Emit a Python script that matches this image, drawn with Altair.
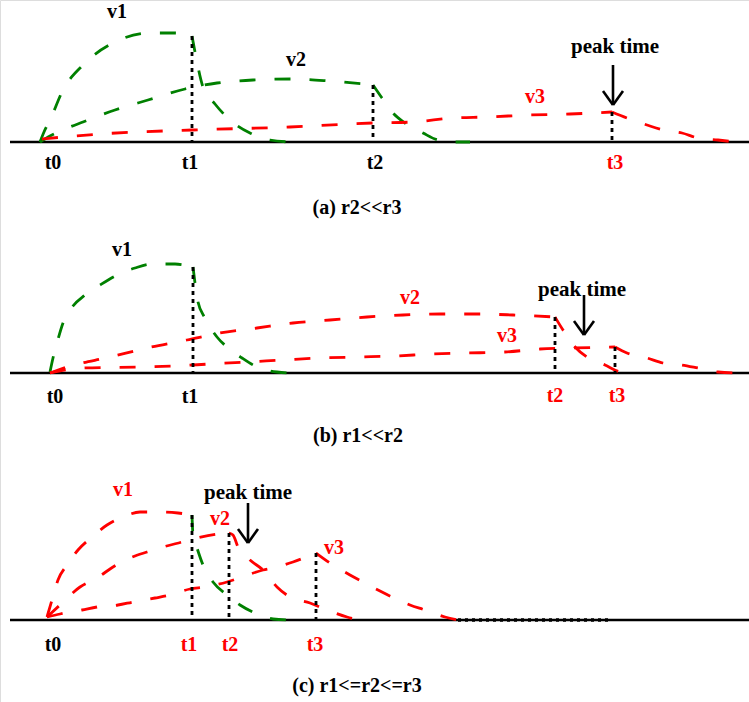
import altair as alt
import pandas as pd

W, H = 749, 702

# ---- panel baselines (pixel rows of the time axis) ----
panels = ["a", "b", "c"]
baseline_y = [142, 373, 620]
axis_x_start = [10, 10, 10]
axis_x_end = [749, 749, 749]
BASE = dict(zip(panels, baseline_y))

GREEN = "#008000"
RED = "#ff0000"
BLACK = "#000000"

# ---- curve points: x position and height above the baseline ----
# panel (a)
a_v1_rise_x = [40, 44, 50, 63, 83, 113, 150, 175, 192]
a_v1_rise_h = [0, 10, 22, 52, 77, 99, 109, 109, 106]
a_v1_fall_x = [192, 196, 203, 215, 230, 250, 270, 290]
a_v1_fall_h = [106, 85, 55, 38, 22, 9, 2, 0]
a_v2_rise_x = [40, 50, 65, 83, 115, 148, 185, 217, 253, 293, 330, 373]
a_v2_rise_h = [0, 6, 13, 20, 32, 42, 53, 59, 62, 63, 61, 57]
a_v2_fall_x = [373, 382, 393, 405, 423, 438, 455, 470]
a_v2_fall_h = [57, 44, 29, 19, 9, 2, 0, 0]
a_v3_rise_x = [42, 100, 192, 290, 373, 413, 453, 487, 530, 570, 612]
a_v3_rise_h = [3, 8, 12, 15, 19, 20, 24, 25, 27, 28, 30]
a_v3_fall_x = [612, 627, 647, 663, 682, 698, 718, 735]
a_v3_fall_h = [30, 24, 17, 12, 9, 4, 2, 0]

# panel (b)
b_v1_rise_x = [50, 53, 57, 63, 73, 85, 100, 117, 135, 153, 175, 193]
b_v1_rise_h = [1, 15, 30, 50, 67, 78, 88, 98, 105, 109, 109, 106]
b_v1_fall_x = [193, 198, 205, 217, 227, 242, 257, 277, 292]
b_v1_fall_h = [106, 71, 55, 36, 26, 15, 6, 1, 0]
b_v2_rise_x = [50, 67, 110, 147, 187, 220, 257, 293, 330, 367, 403, 440, 477, 513, 555]
b_v2_rise_h = [0, 6, 16, 25, 33, 40, 45, 50, 53, 56, 58, 59, 59, 58, 56]
b_v2_fall_x = [555, 563, 575, 587, 605, 620, 625]
b_v2_fall_h = [56, 43, 26, 16, 8, 1, 0]
b_v3_rise_x = [50, 83, 137, 173, 210, 247, 283, 320, 357, 395, 432, 468, 505, 540, 573, 615]
b_v3_rise_h = [0, 5, 6, 7, 9, 11, 13, 15, 16, 17, 19, 20, 21, 24, 25, 26]
b_v3_fall_x = [615, 627, 647, 663, 682, 698, 718, 735]
b_v3_fall_h = [26, 20, 15, 10, 8, 5, 1, 0]

# panel (c)
c_v1_rise_x = [47, 52, 58, 67, 78, 92, 107, 123, 140, 160, 178, 192]
c_v1_rise_h = [3, 20, 40, 55, 70, 83, 95, 103, 108, 108, 107, 105]
c_v1_fall_x = [192, 193, 197, 203, 213, 227, 240, 255, 273, 290]
c_v1_fall_h = [105, 85, 72, 55, 38, 25, 15, 7, 1, 0]
c_v2_rise_x = [47, 60, 80, 97, 113, 130, 147, 163, 182, 197, 218, 229]
c_v2_rise_h = [3, 15, 33, 42, 53, 62, 68, 73, 78, 82, 86, 87]
c_v2_fall_x = [229, 233, 238, 250, 263, 277, 290, 310, 327, 347, 360]
c_v2_fall_h = [87, 85, 73, 60, 50, 33, 23, 17, 10, 3, 0]
c_v3_rise_x = [47, 60, 82, 97, 118, 133, 155, 170, 190, 205, 227, 242, 263, 277, 293, 316]
c_v3_rise_h = [3, 6, 10, 13, 15, 18, 22, 25, 31, 33, 38, 43, 50, 53, 58, 67]
c_v3_fall_x = [316, 330, 350, 365, 380, 392, 410, 425, 445, 458]
c_v3_fall_h = [67, 57, 45, 37, 29, 23, 15, 10, 3, 0]

curves = [
    ("a", "a_v1_rise", GREEN, a_v1_rise_x, a_v1_rise_h),
    ("a", "a_v1_fall", GREEN, a_v1_fall_x, a_v1_fall_h),
    ("a", "a_v2_rise", GREEN, a_v2_rise_x, a_v2_rise_h),
    ("a", "a_v2_fall", GREEN, a_v2_fall_x, a_v2_fall_h),
    ("a", "a_v3_rise", RED, a_v3_rise_x, a_v3_rise_h),
    ("a", "a_v3_fall", RED, a_v3_fall_x, a_v3_fall_h),
    ("b", "b_v1_rise", GREEN, b_v1_rise_x, b_v1_rise_h),
    ("b", "b_v1_fall", GREEN, b_v1_fall_x, b_v1_fall_h),
    ("b", "b_v2_rise", RED, b_v2_rise_x, b_v2_rise_h),
    ("b", "b_v2_fall", RED, b_v2_fall_x, b_v2_fall_h),
    ("b", "b_v3_rise", RED, b_v3_rise_x, b_v3_rise_h),
    ("b", "b_v3_fall", RED, b_v3_fall_x, b_v3_fall_h),
    ("c", "c_v1_rise", RED, c_v1_rise_x, c_v1_rise_h),
    ("c", "c_v1_fall", GREEN, c_v1_fall_x, c_v1_fall_h),
    ("c", "c_v2_rise", RED, c_v2_rise_x, c_v2_rise_h),
    ("c", "c_v2_fall", RED, c_v2_fall_x, c_v2_fall_h),
    ("c", "c_v3_rise", RED, c_v3_rise_x, c_v3_rise_h),
    ("c", "c_v3_fall", RED, c_v3_fall_x, c_v3_fall_h),
]

# ---- dotted markers at t1, t2, t3 (x, top height) ----
mark_panel = ["a", "a", "a", "b", "b", "b", "c", "c", "c"]
mark_x = [192, 373, 612, 193, 555, 615, 192, 229, 316]
mark_h = [106, 57, 30, 106, 56, 26, 105, 87, 67]

# dotted stretch on the time axis in panel (c)
tail_panel = ["c"]
tail_x1 = [458]
tail_x2 = [610]

# ---- "peak time" arrows (x, top y, tip y) ----
arrow_x = [613, 584, 248]
arrow_top = [65, 295, 503]
arrow_tip = [105, 335, 543]

# ---- texts ----
txt = ["v1", "v2", "v3", "peak time", "t0", "t1", "t2", "t3", "(a) r2<<r3",
       "v1", "v2", "v3", "peak time", "t0", "t1", "t2", "t3", "(b) r1<<r2",
       "v1", "v2", "v3", "peak time", "t0", "t1", "t2", "t3", "(c) r1<=r2<=r3"]
txt_x = [117, 296, 535, 615, 53, 190, 375, 615, 357,
         122, 410, 507, 582, 55, 190, 555, 617, 358,
         123, 220, 334, 248, 53, 189, 230, 315, 357]
txt_y = [12, 60, 97, 47, 163, 163, 163, 163, 208,
         250, 298, 336, 290, 397, 397, 396, 396, 436,
         490, 519, 548, 493, 645, 645, 645, 645, 686]
txt_col = [BLACK, BLACK, RED, BLACK, BLACK, BLACK, BLACK, RED, BLACK,
           BLACK, RED, RED, BLACK, BLACK, BLACK, RED, RED, BLACK,
           RED, RED, RED, BLACK, BLACK, RED, RED, RED, BLACK]
txt_kind = ["v", "v", "v", "p", "t", "t", "t", "t", "cap"] * 3
SIZES = {"v": 20, "p": 21, "t": 20, "cap": 20}

# ---- build tables ----
rows = []
for panel, seg, col, xs, hs in curves:
    for i, (x, h) in enumerate(zip(xs, hs)):
        rows.append({"seg": seg, "col": col, "o": i, "x": x, "y": BASE[panel] - h})
curve_df = pd.DataFrame(rows)

axis_df = pd.DataFrame({"x": axis_x_start, "x2": axis_x_end, "y": baseline_y})
mark_df = pd.DataFrame({
    "x": mark_x,
    "y": [BASE[p] - h for p, h in zip(mark_panel, mark_h)],
    "y2": [BASE[p] for p in mark_panel],
})
tail_df = pd.DataFrame({"x": tail_x1, "x2": tail_x2, "y": [BASE[p] for p in tail_panel]})
shaft_df = pd.DataFrame({"x": arrow_x, "y": arrow_top, "y2": arrow_tip})
head_rows = []
for x, tip in zip(arrow_x, arrow_tip):
    head_rows.append({"x": x - 10, "x2": x, "y": tip - 14, "y2": tip})
    head_rows.append({"x": x + 10, "x2": x, "y": tip - 14, "y2": tip})
head_df = pd.DataFrame(head_rows)
text_df = pd.DataFrame({"t": txt, "x": txt_x, "y": txt_y, "col": txt_col,
                        "size": [SIZES[k] for k in txt_kind]})

xs = alt.Scale(domain=[0, W], nice=False, zero=False)
ys = alt.Scale(domain=[0, H], nice=False, zero=False, reverse=True)
X = lambda f: alt.X(f, scale=xs, axis=None)
Y = lambda f: alt.Y(f, scale=ys, axis=None)

axis_layer = alt.Chart(axis_df).mark_rule(color=BLACK, strokeWidth=2.7).encode(
    x=X("x:Q"), x2="x2:Q", y=Y("y:Q"))

curve_layer = alt.Chart(curve_df).mark_line(
    strokeDash=[16, 19], strokeWidth=2.8, interpolate="monotone"
).encode(
    x=X("x:Q"), y=Y("y:Q"), detail="seg:N", order="o:Q",
    color=alt.Color("col:N", scale=None))

mark_layer = alt.Chart(mark_df).mark_rule(
    color=BLACK, strokeWidth=2.8, strokeDash=[4, 4]).encode(
    x=X("x:Q"), y=Y("y:Q"), y2="y2:Q")

tail_layer = alt.Chart(tail_df).mark_rule(
    color=BLACK, strokeWidth=3.6, strokeDash=[3, 4]).encode(
    x=X("x:Q"), x2="x2:Q", y=Y("y:Q"))

shaft_layer = alt.Chart(shaft_df).mark_rule(color=BLACK, strokeWidth=2.6).encode(
    x=X("x:Q"), y=Y("y:Q"), y2="y2:Q")

head_layer = alt.Chart(head_df).mark_rule(color=BLACK, strokeWidth=2.6).encode(
    x=X("x:Q"), x2="x2:Q", y=Y("y:Q"), y2="y2:Q")

text_layer = alt.Chart(text_df).mark_text(
    font="Liberation Serif", fontWeight="bold", align="center", baseline="middle"
).encode(
    x=X("x:Q"), y=Y("y:Q"), text="t:N",
    color=alt.Color("col:N", scale=None),
    size=alt.Size("size:Q", scale=None))

chart = alt.layer(
    axis_layer, curve_layer, mark_layer, tail_layer, shaft_layer, head_layer, text_layer
).properties(
    width=W, height=H, padding=0, autosize=alt.AutoSizeParams(type="none")
).configure_view(stroke=None).configure(background="white")

chart.save("out.html", embed_options={"renderer": "svg", "actions": False})
